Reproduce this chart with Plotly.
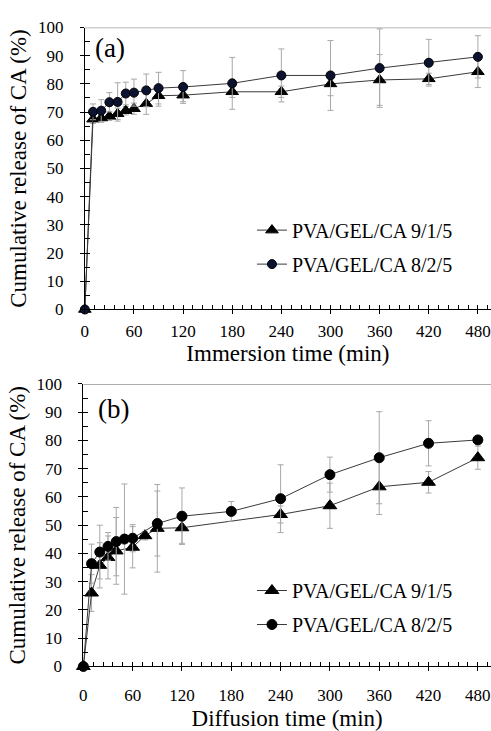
import plotly.graph_objects as go

FONT = "Liberation Serif, Times New Roman, serif"
W, H = 491, 731

# ---------------- data ----------------
# Panel (a): immersion
t_a_91 = [0, 10, 20, 30, 40, 50, 60, 75, 90, 120, 180, 240, 300, 360, 420, 480]
y_a_91 = [0, 67.5, 67.9, 68.5, 69.4, 70.5, 71.2, 73.0, 75.8, 76.0, 77.2, 77.2, 80.0, 81.4, 81.8, 84.3]
e_a_91 = [0, 1.5, 1.5, 1.5, 2.0, 1.5, 2.0, 3.8, 3.7, 2.3, 2.0, 2.0, 4.2, 9.0, 2.0, 5.6]

t_a_82 = [0, 10, 20, 30, 40, 50, 60, 75, 90, 120, 180, 240, 300, 360, 420, 480]
y_a_82 = [0, 70.1, 70.5, 73.5, 73.6, 76.6, 76.9, 77.7, 78.5, 78.9, 80.2, 83.0, 83.0, 85.6, 87.5, 89.6]
e_a_82 = [0, 2.8, 3.9, 3.4, 6.8, 4.0, 4.8, 5.8, 5.6, 5.8, 9.2, 9.4, 12.4, 13.9, 8.3, 7.5]

# Panel (b): diffusion
t_b_91 = [0, 10, 20, 30, 40, 60, 75, 90, 120, 240, 300, 360, 420, 480]
y_b_91 = [0, 26.0, 35.8, 38.6, 40.9, 42.2, 46.3, 48.9, 49.1, 53.8, 56.9, 63.6, 65.2, 73.9]
e_b_91 = [0, 6.5, 8.0, 7.6, 11.8, 7.3, 1.5, 15.5, 5.5, 3.0, 8.0, 9.8, 3.8, 4.1]

t_b_82 = [0, 10, 20, 30, 40, 50, 60, 90, 120, 180, 240, 300, 360, 420, 480]
y_b_82 = [0, 36.4, 40.5, 42.5, 44.2, 45.1, 45.4, 50.6, 53.2, 54.9, 59.4, 67.9, 73.9, 79.0, 80.2]
e_b_82 = [0, 6.9, 9.5, 4.9, 12.1, 19.5, 4.8, 11.5, 10.0, 3.5, 12.0, 6.2, 16.3, 8.0, 1.0]

names = ["PVA/GEL/CA 9/1/5", "PVA/GEL/CA 8/2/5"]
x_ticks = [0, 60, 120, 180, 240, 300, 360, 420, 480]
y_ticks = [0, 10, 20, 30, 40, 50, 60, 70, 80, 90, 100]

# ---------------- figure ----------------
fig = go.Figure()

def add_series(t, y, e, xa, ya, symbol, fill, name, legend, size, linecol):
    fig.add_trace(go.Scatter(
        x=t, y=y, mode="lines+markers", name=name, legend=legend,
        legendgroup=name + legend, xaxis=xa, yaxis=ya, cliponaxis=False,
        line=dict(color=linecol, width=1),
        marker=dict(symbol=symbol, size=size, color=fill,
                    line=dict(color="black", width=1)),
        error_y=dict(type="data", array=e, color="#a8a8a8", thickness=1, width=3),
    ))

add_series(t_a_91, y_a_91, e_a_91, "x", "y", "triangle-up", "black", names[0], "legend", 11, "#3a3a3a")
add_series(t_a_82, y_a_82, e_a_82, "x", "y", "circle", "#0b1330", names[1], "legend", 9, "#3a3a3a")
add_series(t_b_91, y_b_91, e_b_91, "x2", "y2", "triangle-up", "black", names[0], "legend2", 12, "#3a3a3a")
add_series(t_b_82, y_b_82, e_b_82, "x2", "y2", "circle", "black", names[1], "legend2", 10, "#3a3a3a")

# invisible anchors for overlay axes (inside tick marks)
for xa, ya in (("x3", "y3"), ("x4", "y4")):
    fig.add_trace(go.Scatter(x=[0], y=[0], mode="markers", marker=dict(opacity=0),
                             showlegend=False, hoverinfo="skip", xaxis=xa, yaxis=ya))

xr = [0, 496]
dom_xa = [81.5 / W, 1]
dom_xb = [80 / W, 1]
dom_ya = [(H - 308.5) / H, (H - 19) / H]
dom_yb = [(H - 675) / H, (H - 385) / H]

tickfont = dict(family=FONT, size=17, color="black")
titlefont = dict(family=FONT, size=23, color="black")

def xmain(domain, anchor, title, lab_off, tit_off):
    return dict(domain=domain, anchor=anchor, range=xr, tickvals=x_ticks,
                ticks="outside", ticklen=4, tickwidth=1, tickcolor="black",
                showline=True, linecolor="black", linewidth=1, showgrid=False,
                zeroline=False, tickfont=tickfont, ticklabelstandoff=lab_off,
                title=dict(text=title, font=titlefont, standoff=tit_off))

def ymain(domain, anchor):
    return dict(domain=domain, anchor=anchor, range=[0, 100], tickvals=y_ticks,
                ticks="outside", ticklen=4, tickwidth=1, tickcolor="black",
                showline=True, linecolor="black", linewidth=1, showgrid=False,
                zeroline=False, tickfont=tickfont, ticklabelstandoff=13,
                title=dict(text="Cumulative release of CA (%)", font=titlefont, standoff=4))

def xover(over, anchor):
    return dict(overlaying=over, anchor=anchor, range=xr, tickvals=x_ticks,
                ticks="inside", ticklen=4, tickwidth=1, tickcolor="black",
                showticklabels=False, showgrid=False, zeroline=False, showline=False,
                minor=dict(dtick=12, tick0=0, ticks="inside", ticklen=4,
                           tickwidth=1, tickcolor="black", showgrid=False))

def yover(over, anchor):
    return dict(overlaying=over, anchor=anchor, range=[0, 100], tickvals=y_ticks,
                ticks="inside", ticklen=5, tickwidth=1, tickcolor="black",
                showticklabels=False, showgrid=False, zeroline=False, showline=False,
                minor=dict(dtick=5, tick0=0, ticks="inside", ticklen=5,
                           tickwidth=1, tickcolor="black", showgrid=False))

leg_common = dict(font=dict(family=FONT, size=20, color="black"),
                  bgcolor="rgba(0,0,0,0)", tracegroupgap=5, itemwidth=30,
                  xanchor="left", yanchor="top")

fig.update_layout(
    width=W, height=H,
    margin=dict(l=0, r=0, t=0, b=0),
    paper_bgcolor="white", plot_bgcolor="white",
    showlegend=True,
    xaxis=xmain(dom_xa, "y", "Immersion time (min)", 2, 2),
    yaxis=ymain(dom_ya, "x"),
    xaxis2=xmain(dom_xb, "y2", "Diffusion time (min)", 9, 9),
    yaxis2=ymain(dom_yb, "x2"),
    xaxis3=xover("x", "y3"),
    yaxis3=yover("y", "x3"),
    xaxis4=xover("x2", "y4"),
    yaxis4=yover("y2", "x4"),
    legend=dict(x=250 / W, y=(H - 207) / H, **leg_common),
    legend2=dict(x=250 / W, y=(H - 577) / H, **leg_common),
    annotations=[
        dict(text="(a)", x=107 / W, y=(H - 40) / H, xref="paper", yref="paper",
             xanchor="center", yanchor="middle",
             showarrow=False, font=dict(family=FONT, size=27, color="black")),
        dict(text="(b)", x=110 / W, y=(H - 411) / H, xref="paper", yref="paper",
             xanchor="center", yanchor="middle",
             showarrow=False, font=dict(family=FONT, size=27, color="black")),
    ],
    shapes=[
        dict(type="line", xref="x domain", yref="y", x0=0, x1=1, y0=100, y1=100,
             line=dict(color="#a0a0a0", width=1.5)),
        dict(type="line", xref="x2 domain", yref="y2", x0=0, x1=1, y0=100, y1=100,
             line=dict(color="#5a5a5a", width=1.2)),
    ],
)
fig.layout.yaxis3.update(domain=dom_ya)
fig.layout.yaxis4.update(domain=dom_yb)

fig.write_html("out.html")
